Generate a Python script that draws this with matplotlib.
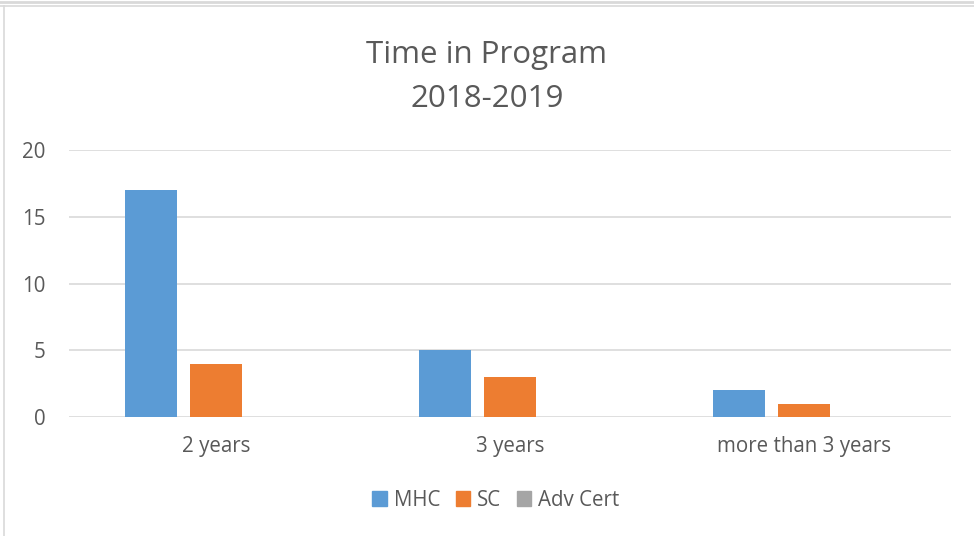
import numpy as np
import matplotlib.pyplot as plt
from matplotlib.lines import Line2D
from matplotlib.patches import Patch

categories = ["2 years", "3 years", "more than 3 years"]
mhc = [17, 5, 2]
sc = [4, 3, 1]
adv_cert = [0, 0, 0]

series = [("MHC", mhc, "#5B9BD5"), ("SC", sc, "#ED7D31"), ("Adv Cert", adv_cert, "#A5A5A5")]
text_color = "#595959"

plt.rcParams['font.family'] = ['Open Sans', 'DejaVu Sans']

fig = plt.figure(figsize=(9.74, 5.36), dpi=100)
ax = fig.add_axes([69 / 974, 119 / 536, 882 / 974, 267 / 536])

x = np.arange(len(categories))
width = 0.177
offsets = [-0.221, 0, 0.221]
for (name, vals, color), off in zip(series, offsets):
    ax.bar(x + off, vals, width, color=color, label=name, zorder=3)

ax.set_xlim(-0.5, len(categories) - 0.5)
ax.set_ylim(0, 20)
ax.set_yticks([0, 5, 10, 15, 20])
ax.set_xticks(x)
ax.set_xticklabels(categories)
ax.grid(axis='y', color="#D9D9D9", linewidth=1.2, zorder=0)
for s in ax.spines.values():
    s.set_visible(False)
ax.tick_params(length=0, colors=text_color, labelsize=14.8)
ax.tick_params(axis='x', pad=14)
ax.tick_params(axis='y', pad=17)

fig.text(487 / 974, 1 - 77 / 536, "Time in Program\n2018-2019", ha='center', va='center',
         fontsize=22.5, color=text_color, linespacing=1.62)

handles = [Patch(color=c) for _, _, c in series]
fig.legend(handles, [n for n, _, _ in series], loc='center', bbox_to_anchor=(496 / 974, 1 - 500 / 536),
           ncol=3, frameon=False, fontsize=14.8, handlelength=0.7, handleheight=0.7,
           handletextpad=0.35, columnspacing=0.75, labelcolor=text_color)

# screenshot border lines
fig.add_artist(Line2D([0, 1], [1 - 1.5 / 536, 1 - 1.5 / 536], color="#D9D9D9", linewidth=2))
fig.add_artist(Line2D([0, 1], [1 - 5.5 / 536, 1 - 5.5 / 536], color="#D9D9D9", linewidth=1.2))
fig.add_artist(Line2D([3.5 / 974, 3.5 / 974], [0, 1 - 5.5 / 536], color="#D9D9D9", linewidth=1.2))

fig.savefig("out.png", dpi=100)
